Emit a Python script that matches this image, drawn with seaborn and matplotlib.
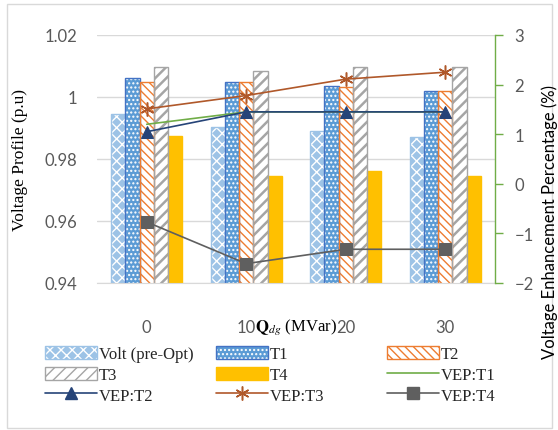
import numpy as np
import pandas as pd
import matplotlib
matplotlib.use("Agg")
import matplotlib.pyplot as plt
from matplotlib.patches import Rectangle
from matplotlib.lines import Line2D
from matplotlib.legend_handler import HandlerTuple
import seaborn as sns

# Reactive power injection of the DG (MVar)
categories = ["0", "10", "20", "30"]

# Voltage profile (p.u) per configuration
volt_pre = [0.9945, 0.9904, 0.9891, 0.9872]
t1 = [1.0061, 1.0050, 1.0034, 1.0020]
t2 = [1.0050, 1.0050, 1.0031, 1.0020]
t3 = [1.0096, 1.0085, 1.0096, 1.0096]
t4 = [0.9875, 0.9746, 0.9762, 0.9744]

# Voltage enhancement percentage (%)
vep_t1 = [1.20, 1.45, 1.45, 1.45]
vep_t2 = [1.05, 1.45, 1.45, 1.45]
vep_t3 = [1.51, 1.78, 2.11, 2.25]
vep_t4 = [-0.77, -1.61, -1.32, -1.32]

series_names = ["Volt (pre-Opt)", "T1", "T2", "T3", "T4"]
series_vals = [volt_pre, t1, t2, t3, t4]

df = pd.DataFrame(
    [(c, s, v) for s, vals in zip(series_names, series_vals) for c, v in zip(categories, vals)],
    columns=["Qdg", "series", "value"],
)

sns.set_style("white")
plt.rcParams["hatch.linewidth"] = 1.0
plt.rcParams["mathtext.fontset"] = "stix"
serif = ["Liberation Serif", "DejaVu Serif"]
sans = ["Lato", "DejaVu Sans"]
tick_gray = "#595959"

fig = plt.figure(figsize=(5.58, 4.31), dpi=100)
ax = fig.add_axes([97 / 558, 1 - 284 / 431, 398 / 558, 248 / 431])

sns.barplot(data=df, x="Qdg", y="value", hue="series", hue_order=series_names,
            order=categories, width=0.714, gap=0, ax=ax, legend=False,
            palette=["#9DC3E6", "#5B9BD5", "white", "white", "#FFC000"],
            saturation=1, errorbar=None)

styles = {
    "Volt (pre-Opt)": dict(face="#9DC3E6", hatch="xxx", hcol="white", edge="#9DC3E6"),
    "T1": dict(face="#5B9BD5", hatch="....", hcol="white", edge="#4472C4"),
    "T2": dict(face="white", hatch="\\\\\\\\", hcol="#ED7D31", edge="#ED7D31"),
    "T3": dict(face="white", hatch="///", hcol="#A5A5A5", edge="#A5A5A5"),
    "T4": dict(face="#FFC000", hatch=None, hcol=None, edge="#FFC000"),
}

legend_handles = {}
for name, cont in zip(series_names, ax.containers):
    st = styles[name]
    for bar in cont:
        bar.set_facecolor(st["face"])
        if st["hatch"]:
            bar.set_hatch(st["hatch"])
            bar.set_edgecolor(st["hcol"])
            bar.set_linewidth(0)
            if name == "T3" and hasattr(bar, "set_hatch_linewidth"):
                bar.set_hatch_linewidth(1.8)
            outline = Rectangle(bar.get_xy(), bar.get_width(), bar.get_height(),
                                fill=False, edgecolor=st["edge"], linewidth=1.0)
            ax.add_patch(outline)
        else:
            bar.set_edgecolor(st["edge"])
    fill = Rectangle((0, 0), 1, 1, facecolor=st["face"], hatch=st["hatch"],
                     edgecolor=st["hcol"] if st["hatch"] else st["edge"], linewidth=0)
    if st["hatch"] and name == "T3" and hasattr(fill, "set_hatch_linewidth"):
        fill.set_hatch_linewidth(1.8)
    edge = Rectangle((0, 0), 1, 1, fill=False, edgecolor=st["edge"], linewidth=1.0)
    legend_handles[name] = (fill, edge)

ax.set_ylim(0.94, 1.02)
ax.set_xlim(-0.5, 3.5)
ax.set_yticks([0.94, 0.96, 0.98, 1.00, 1.02])
ax.set_yticklabels(["0.94", "0.96", "0.98", "1", "1.02"])
ax.grid(axis="y", color="#D9D9D9", linewidth=1.0)
ax.set_axisbelow(True)
for s in ["left", "right", "top"]:
    ax.spines[s].set_visible(False)
ax.spines["bottom"].set_color("#D9D9D9")
ax.tick_params(axis="y", length=0, pad=14, labelsize=12, labelcolor=tick_gray)
ax.tick_params(axis="x", length=0, pad=26, labelsize=12, labelcolor=tick_gray)
for lab in ax.get_xticklabels() + ax.get_yticklabels():
    lab.set_fontfamily(sans)
ax.set_xlabel("")
ax.set_ylabel("")

# Secondary axis: voltage enhancement percentage
ax2 = ax.twinx()
xpos = np.arange(len(categories))
line_specs = [
    ("VEP:T1", vep_t1, dict(color="#70AD47", marker=None)),
    ("VEP:T2", vep_t2, dict(color="#264478", marker="^", markersize=8,
                            markeredgecolor="#264478")),
    ("VEP:T3", vep_t3, dict(color="#B0582A", marker=(6, 2, 0), markersize=10,
                            markeredgewidth=1.1, markeredgecolor="#B0582A")),
    ("VEP:T4", vep_t4, dict(color="#5F5F5F", marker="s", markersize=8,
                            markeredgecolor="#5F5F5F")),
]
for name, vals, kw in line_specs:
    sns.lineplot(x=xpos, y=vals, ax=ax2, linewidth=1.2, legend=False, **kw)
    legend_handles[name] = Line2D([], [], linewidth=1.2, **kw)

ax2.set_ylim(-2, 3)
ax2.set_yticks([-2, -1, 0, 1, 2, 3])
for s in ["left", "top", "bottom"]:
    ax2.spines[s].set_visible(False)
ax2.spines["right"].set_color("#70AD47")
ax2.spines["right"].set_linewidth(1.0)
ax2.tick_params(axis="y", length=6, width=1.0, color="#70AD47", pad=8,
                labelsize=12, labelcolor=tick_gray)
for lab in ax2.get_yticklabels():
    lab.set_fontfamily(sans)
ax2.set_ylabel("")

# Axis titles
fig.text(20 / 558, 1 - 160 / 431, "Voltage Profile (p.u)", rotation=90, ha="center", va="center",
         fontsize=12.5, family=serif, color="black")
fig.text(550 / 558, 1 - 222 / 431, "Voltage Enhancement Percentage (%)", rotation=90,
         ha="center", va="center", fontsize=12, family=sans, color="black")
fig.text(296 / 558, 1 - 327 / 431, r"$\mathbf{Q}_{dg}$ (MVar)", ha="center", va="center",
         fontsize=12, family=serif, color="black")

# Legend in three columns
columns = [
    (45, ["Volt (pre-Opt)", "T3", "VEP:T2"]),
    (216, ["T1", "T4", "VEP:T3"]),
    (387, ["T2", "VEP:T1", "VEP:T4"]),
]
for x0, names in columns:
    fig.legend([legend_handles[n] for n in names], names,
               loc="upper left", bbox_to_anchor=(x0 / 558, 1 - 347 / 431),
               frameon=False, prop={"family": serif, "size": 12},
               handlelength=3.1, handleheight=0.85, handletextpad=0.15,
               labelspacing=0.25, borderaxespad=0, borderpad=0,
               handler_map={tuple: HandlerTuple(ndivide=1, pad=0)})

# Chart border
fig.add_artist(Rectangle((7 / 558, 1 - 429 / 431), 545 / 558, 424 / 431,
                         transform=fig.transFigure, fill=False,
                         edgecolor="#D9D9D9", linewidth=1.0))

fig.savefig("out.png", dpi=100)
